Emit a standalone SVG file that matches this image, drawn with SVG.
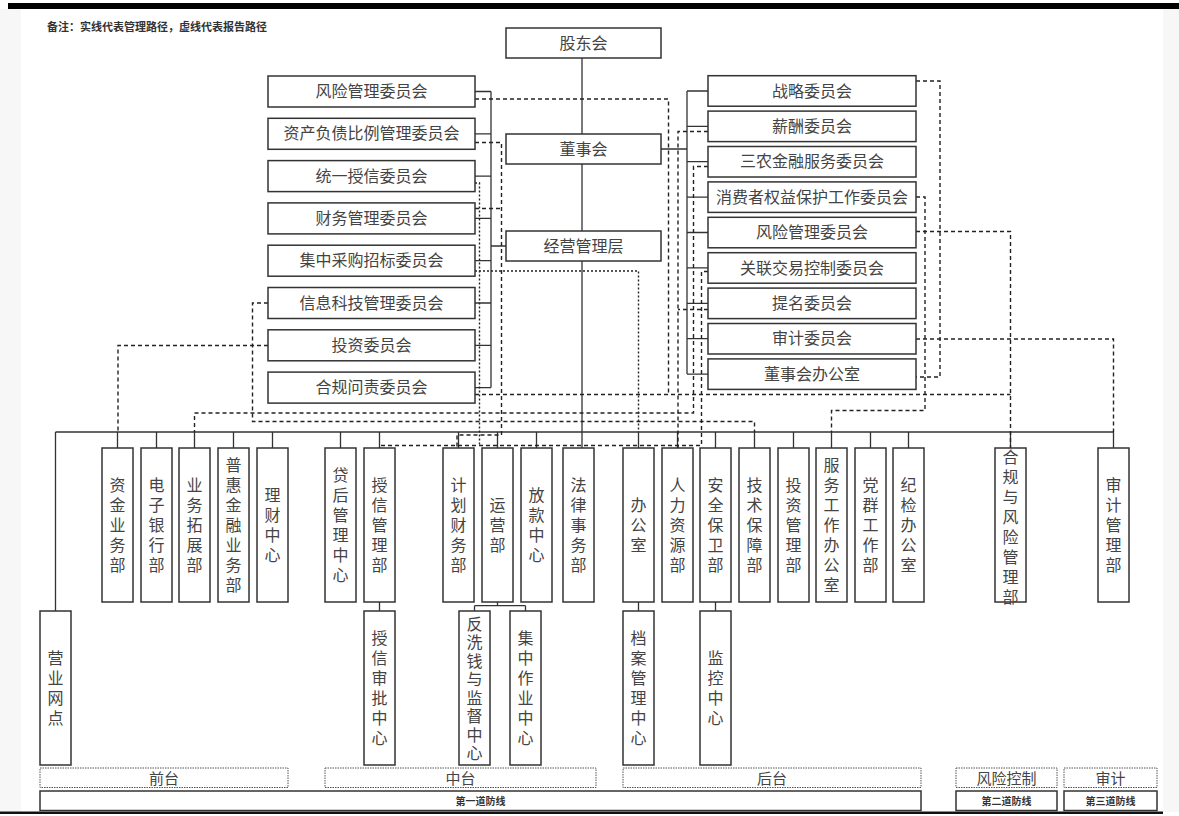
<svg xmlns="http://www.w3.org/2000/svg" width="1179" height="816" viewBox="0 0 1179 816">
<style>
.box{fill:#fff;stroke:#333;stroke-width:1.5}
.ln{fill:none;stroke:#333;stroke-width:1.3}
.dash{fill:none;stroke:#222;stroke-width:1.4;stroke-dasharray:4 3}
.dot{fill:none;stroke:#222;stroke-width:1.4;stroke-dasharray:2 2}
.lbl{fill:none;stroke:#555;stroke-width:1;stroke-dasharray:1.5 1}
.t{font-family:"Noto Sans CJK SC","Noto Sans",sans-serif;font-size:16px;fill:#444;text-anchor:middle}
.v{font-family:"Noto Sans CJK SC","Noto Sans",sans-serif;font-size:16px;fill:#444;text-anchor:middle;writing-mode:vertical-rl;letter-spacing:4px}
.s{font-family:"Noto Sans CJK SC","Noto Sans",sans-serif;font-size:10px;font-weight:bold;fill:#333;text-anchor:middle}
.n{font-family:"Noto Sans CJK SC","Noto Sans",sans-serif;font-size:11px;font-weight:bold;fill:#333}
</style>
<rect x="0" y="0" width="1179" height="816" fill="#fff"/>
<rect x="0" y="9" width="21" height="803" fill="#f7f7f7"/>
<rect x="1163" y="9" width="16" height="803" fill="#f7f7f7"/>
<rect x="8" y="3" width="1171" height="6" fill="#000"/>
<rect x="0" y="811.5" width="1163" height="2.5" fill="#111"/>
<text class="n" x="47" y="31">备注：实线代表管理路径，虚线代表报告路径</text>

<g id="connectors">
<path class="ln" d="M582,58V134M582,164V231M582,261V448"/>
<path class="ln" d="M491,91.5V387.6M475,91.5H491M475,133.8H491M475,176.1H491M475,218.4H491M475,260.7H491M475,303H491M475,345.3H491M475,387.6H491M491,246H506"/>
<path class="ln" d="M687,91V374M687,91H708M687,126.4H708M687,161.7H708M687,197.1H708M687,232.5H708M687,267.9H708M687,303.3H708M687,338.7H708M687,374.1H708M661,149H687"/>
<path class="ln" d="M55.5,432H1113.5M55.5,432V611"/>
<path class="ln" d="M117.5,432V448M156.5,432V448M194.5,432V448M233.5,432V448M272.5,432V448M340.5,432V448M379.5,432V448M458.5,432V448M497.5,432V448M536.5,432V448M638.5,432V448M677.5,432V448M715.5,432V448M754.5,432V448M793.5,432V448M831.5,432V448M870.5,432V448M908.5,432V448M1010.5,432V448M1113.5,432V448"/>
<path class="ln" d="M379.5,602V611M638.5,602V611M715.5,602V611M497.5,602V605.7M474.5,605.7H525.5M474.5,605.7V611M525.5,605.7V611"/>
<path class="dash" d="M475,99H668.5V394.5"/>
<path class="dash" d="M475,394.5H1010.5"/>
<path class="dash" d="M475,142.5H501.5V435H457V448M475,208.5H501.5"/>
<path class="dot" d="M475,183H479.5V445.5"/>
<path class="dash" d="M708,271.5H701.5V445.5H379.5V448"/>
<path class="dot" d="M475,271H638.5V432"/>
<path class="dash" d="M268,303H252.5V421.5H754.5V432"/>
<path class="dash" d="M268,345.5H118V432"/>
<path class="dash" d="M916,81H940V377H916"/>
<path class="dash" d="M708,131.5H678V448M708,309.5H678"/>
<path class="dash" d="M708,166.5H693.5V413H194.5V432"/>
<path class="dash" d="M916,197H925V410.5H831.5V432"/>
<path class="dash" d="M916,231.5H1010.5V448"/>
<path class="dash" d="M916,339H1113.5V432"/>
</g>

<g id="n-gudonghui"><rect class="box" x="506" y="28" width="155" height="30"/><text class="t" x="583.5" y="49">股东会</text></g>
<g id="n-dongshihui"><rect class="box" x="506" y="134" width="155" height="30"/><text class="t" x="583.5" y="155">董事会</text></g>
<g id="n-jingying"><rect class="box" x="506" y="231" width="155" height="30"/><text class="t" x="583.5" y="252">经营管理层</text></g>

<g id="l-fengxian"><rect class="box" x="268" y="76" width="207" height="31"/><text class="t" x="371.5" y="97">风险管理委员会</text></g>
<g id="l-zichan"><rect class="box" x="268" y="118.3" width="207" height="31"/><text class="t" x="371.5" y="139.3">资产负债比例管理委员会</text></g>
<g id="l-shouxin"><rect class="box" x="268" y="160.6" width="207" height="31"/><text class="t" x="371.5" y="181.6">统一授信委员会</text></g>
<g id="l-caiwu"><rect class="box" x="268" y="202.9" width="207" height="31"/><text class="t" x="371.5" y="223.9">财务管理委员会</text></g>
<g id="l-caigou"><rect class="box" x="268" y="245.2" width="207" height="31"/><text class="t" x="371.5" y="266.2">集中采购招标委员会</text></g>
<g id="l-keji"><rect class="box" x="268" y="287.5" width="207" height="31"/><text class="t" x="371.5" y="308.5">信息科技管理委员会</text></g>
<g id="l-touzi"><rect class="box" x="268" y="329.8" width="207" height="31"/><text class="t" x="371.5" y="350.8">投资委员会</text></g>
<g id="l-hegui"><rect class="box" x="268" y="372.1" width="207" height="31"/><text class="t" x="371.5" y="393.1">合规问责委员会</text></g>

<g id="r-zhanlue"><rect class="box" x="708" y="75.7" width="208" height="30.5"/><text class="t" x="812" y="96.5">战略委员会</text></g>
<g id="r-xinchou"><rect class="box" x="708" y="111.1" width="208" height="30.5"/><text class="t" x="812" y="131.9">薪酬委员会</text></g>
<g id="r-sannong"><rect class="box" x="708" y="146.5" width="208" height="30.5"/><text class="t" x="812" y="167.3">三农金融服务委员会</text></g>
<g id="r-xiaofei"><rect class="box" x="708" y="181.9" width="208" height="30.5"/><text class="t" x="812" y="202.7">消费者权益保护工作委员会</text></g>
<g id="r-fengxian"><rect class="box" x="708" y="217.3" width="208" height="30.5"/><text class="t" x="812" y="238.1">风险管理委员会</text></g>
<g id="r-guanlian"><rect class="box" x="708" y="252.7" width="208" height="30.5"/><text class="t" x="812" y="273.5">关联交易控制委员会</text></g>
<g id="r-timing"><rect class="box" x="708" y="288.1" width="208" height="30.5"/><text class="t" x="812" y="308.9">提名委员会</text></g>
<g id="r-shenji"><rect class="box" x="708" y="323.5" width="208" height="30.5"/><text class="t" x="812" y="344.3">审计委员会</text></g>
<g id="r-bangongshi"><rect class="box" x="708" y="358.9" width="208" height="30.5"/><text class="t" x="812" y="379.7">董事会办公室</text></g>

<g id="d-zijin"><rect class="box" x="102" y="448" width="31" height="154"/><text class="v" x="117.5" y="527">资金业务部</text></g>
<g id="d-dianzi"><rect class="box" x="141" y="448" width="31" height="154"/><text class="v" x="156.5" y="527">电子银行部</text></g>
<g id="d-tuozhan"><rect class="box" x="179" y="448" width="31" height="154"/><text class="v" x="194.5" y="527">业务拓展部</text></g>
<g id="d-puhui"><rect class="box" x="218" y="448" width="31" height="154"/><text class="v" x="233.5" y="527">普惠金融业务部</text></g>
<g id="d-licai"><rect class="box" x="257" y="448" width="31" height="154"/><text class="v" x="272.5" y="527">理财中心</text></g>
<g id="d-daihou"><rect class="box" x="325" y="448" width="31" height="154"/><text class="v" x="340.5" y="527">贷后管理中心</text></g>
<g id="d-shouxin"><rect class="box" x="364" y="448" width="31" height="154"/><text class="v" x="379.5" y="527">授信管理部</text></g>
<g id="d-jihua"><rect class="box" x="443" y="448" width="31" height="154"/><text class="v" x="458.5" y="527">计划财务部</text></g>
<g id="d-yunying"><rect class="box" x="482" y="448" width="31" height="154"/><text class="v" x="497.5" y="527">运营部</text></g>
<g id="d-fangkuan"><rect class="box" x="521" y="448" width="31" height="154"/><text class="v" x="536.5" y="527">放款中心</text></g>
<g id="d-falv"><rect class="box" x="563" y="448" width="31" height="154"/><text class="v" x="578.5" y="527">法律事务部</text></g>
<g id="d-bangong"><rect class="box" x="623" y="448" width="31" height="154"/><text class="v" x="638.5" y="527">办公室</text></g>
<g id="d-renli"><rect class="box" x="662" y="448" width="31" height="154"/><text class="v" x="677.5" y="527">人力资源部</text></g>
<g id="d-anquan"><rect class="box" x="700" y="448" width="31" height="154"/><text class="v" x="715.5" y="527">安全保卫部</text></g>
<g id="d-jishu"><rect class="box" x="739" y="448" width="31" height="154"/><text class="v" x="754.5" y="527">技术保障部</text></g>
<g id="d-touzi"><rect class="box" x="778" y="448" width="31" height="154"/><text class="v" x="793.5" y="527">投资管理部</text></g>
<g id="d-fuwu"><rect class="box" x="816" y="448" width="31" height="154"/><text class="v" x="831.5" y="527">服务工作办公室</text></g>
<g id="d-dangqun"><rect class="box" x="855" y="448" width="31" height="154"/><text class="v" x="870.5" y="527">党群工作部</text></g>
<g id="d-jijian"><rect class="box" x="893" y="448" width="31" height="154"/><text class="v" x="908.5" y="527">纪检办公室</text></g>
<g id="d-hegui"><rect class="box" x="995" y="448" width="31" height="154"/><text class="v" x="1010.5" y="528.5">合规与风险管理部</text></g>
<g id="d-shenji"><rect class="box" x="1098" y="448" width="31" height="154"/><text class="v" x="1113.5" y="527">审计管理部</text></g>

<g id="s-wangdian"><rect class="box" x="40" y="611" width="31" height="154"/><text class="v" x="55.5" y="690">营业网点</text></g>
<g id="s-shenpi"><rect class="box" x="364" y="611" width="31" height="154"/><text class="v" x="379.5" y="690">授信审批中心</text></g>
<g id="s-fanxiqian"><rect class="box" x="459" y="611" width="31" height="154"/><text class="v" x="474.5" y="689.5" style="letter-spacing:2.5px">反洗钱与监督中心</text></g>
<g id="s-jizhong"><rect class="box" x="510" y="611" width="31" height="154"/><text class="v" x="525.5" y="690">集中作业中心</text></g>
<g id="s-dangan"><rect class="box" x="623" y="611" width="31" height="154"/><text class="v" x="638.5" y="690">档案管理中心</text></g>
<g id="s-jiankong"><rect class="box" x="700" y="611" width="31" height="154"/><text class="v" x="715.5" y="690">监控中心</text></g>

<g id="zone-qiantai"><rect class="lbl" x="40" y="768" width="248" height="19.5"/><text class="t" x="164" y="783.5" style="font-size:15px">前台</text></g>
<g id="zone-zhongtai"><rect class="lbl" x="325" y="768" width="271" height="19.5"/><text class="t" x="460.5" y="783.5" style="font-size:15px">中台</text></g>
<g id="zone-houtai"><rect class="lbl" x="623" y="768" width="298" height="19.5"/><text class="t" x="772" y="783.5" style="font-size:15px">后台</text></g>
<g id="zone-fengkong"><rect class="lbl" x="956" y="768" width="101" height="19.5"/><text class="t" x="1006.5" y="783.5" style="font-size:15px">风险控制</text></g>
<g id="zone-shenji"><rect class="lbl" x="1064" y="768" width="93" height="19.5"/><text class="t" x="1110.5" y="783.5" style="font-size:15px">审计</text></g>
<g id="line-1"><rect class="box" x="40" y="791" width="881" height="19.5"/><text class="s" x="480.5" y="804.5">第一道防线</text></g>
<g id="line-2"><rect class="box" x="956" y="791" width="101" height="19.5"/><text class="s" x="1006.5" y="804.5">第二道防线</text></g>
<g id="line-3"><rect class="box" x="1064" y="791" width="93" height="19.5"/><text class="s" x="1110.5" y="804.5">第三道防线</text></g>
</svg>
